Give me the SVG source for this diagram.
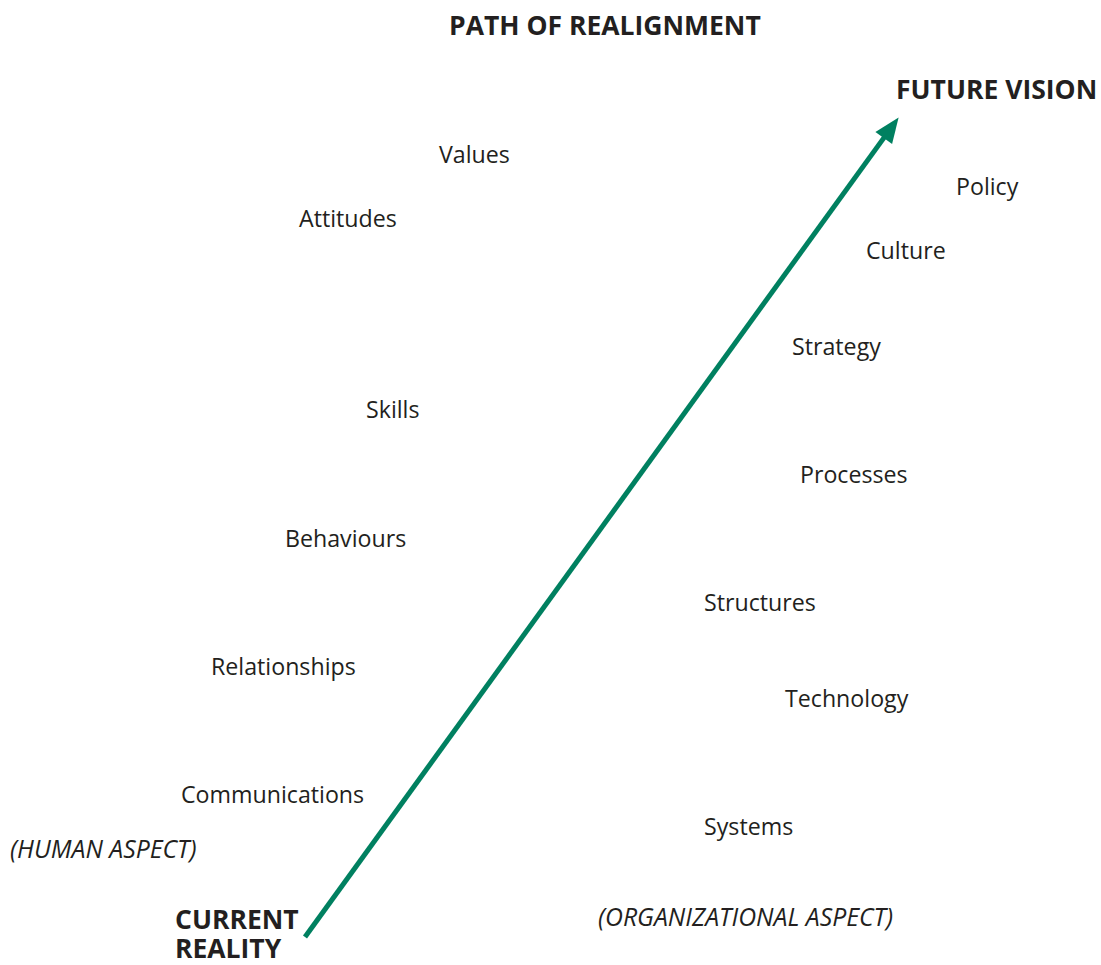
<svg xmlns="http://www.w3.org/2000/svg" width="1101" height="965" viewBox="0 0 1101 965">
<style>
text{font-family:"Open Sans","Noto Sans","Liberation Sans",sans-serif;fill:#231f20}
.n{font-size:23.2px}
.b{font-size:26.5px;font-weight:bold}
.i{font-size:24.8px;font-style:italic}
.c{stroke:#008060;stroke-width:5;fill:none}
</style>
<defs>
<marker id="ah" markerUnits="userSpaceOnUse" markerWidth="30" markerHeight="30" refX="-10" refY="0" viewBox="-30 -15 32 30" orient="auto" overflow="visible">
<path d="M0,0 L-27,-11 L-27,11 Z" fill="#008060"/>
</marker>
</defs>
<rect width="1101" height="965" fill="#fff"/>
<g id="title"><text class="b" x="449" y="35">PATH OF REALIGNMENT</text></g>
<g id="connectors"><line class="c" x1="305" y1="937" x2="893.1" y2="125.1" marker-end="url(#ah)"/></g>
<g id="future"><text class="b" x="896" y="99">FUTURE VISION</text></g>
<g id="current"><text class="b" x="175" y="929">CURRENT</text><text class="b" x="175" y="958">REALITY</text></g>
<g id="values"><text class="n" x="439" y="163">Values</text></g>
<g id="policy"><text class="n" x="956" y="195">Policy</text></g>
<g id="attitudes"><text class="n" x="299" y="227">Attitudes</text></g>
<g id="culture"><text class="n" x="866" y="259">Culture</text></g>
<g id="strategy"><text class="n" x="792" y="355">Strategy</text></g>
<g id="skills"><text class="n" x="366" y="418">Skills</text></g>
<g id="processes"><text class="n" x="800" y="483">Processes</text></g>
<g id="behaviours"><text class="n" x="285" y="547">Behaviours</text></g>
<g id="structures"><text class="n" x="704" y="611">Structures</text></g>
<g id="relationships"><text class="n" x="211" y="675">Relationships</text></g>
<g id="technology"><text class="n" x="785" y="707">Technology</text></g>
<g id="communications"><text class="n" x="181" y="803">Communications</text></g>
<g id="systems"><text class="n" x="704" y="835">Systems</text></g>
<g id="human"><text class="i" x="10" y="858">(HUMAN ASPECT)</text></g>
<g id="org"><text class="i" x="598" y="926">(ORGANIZATIONAL ASPECT)</text></g>
</svg>
